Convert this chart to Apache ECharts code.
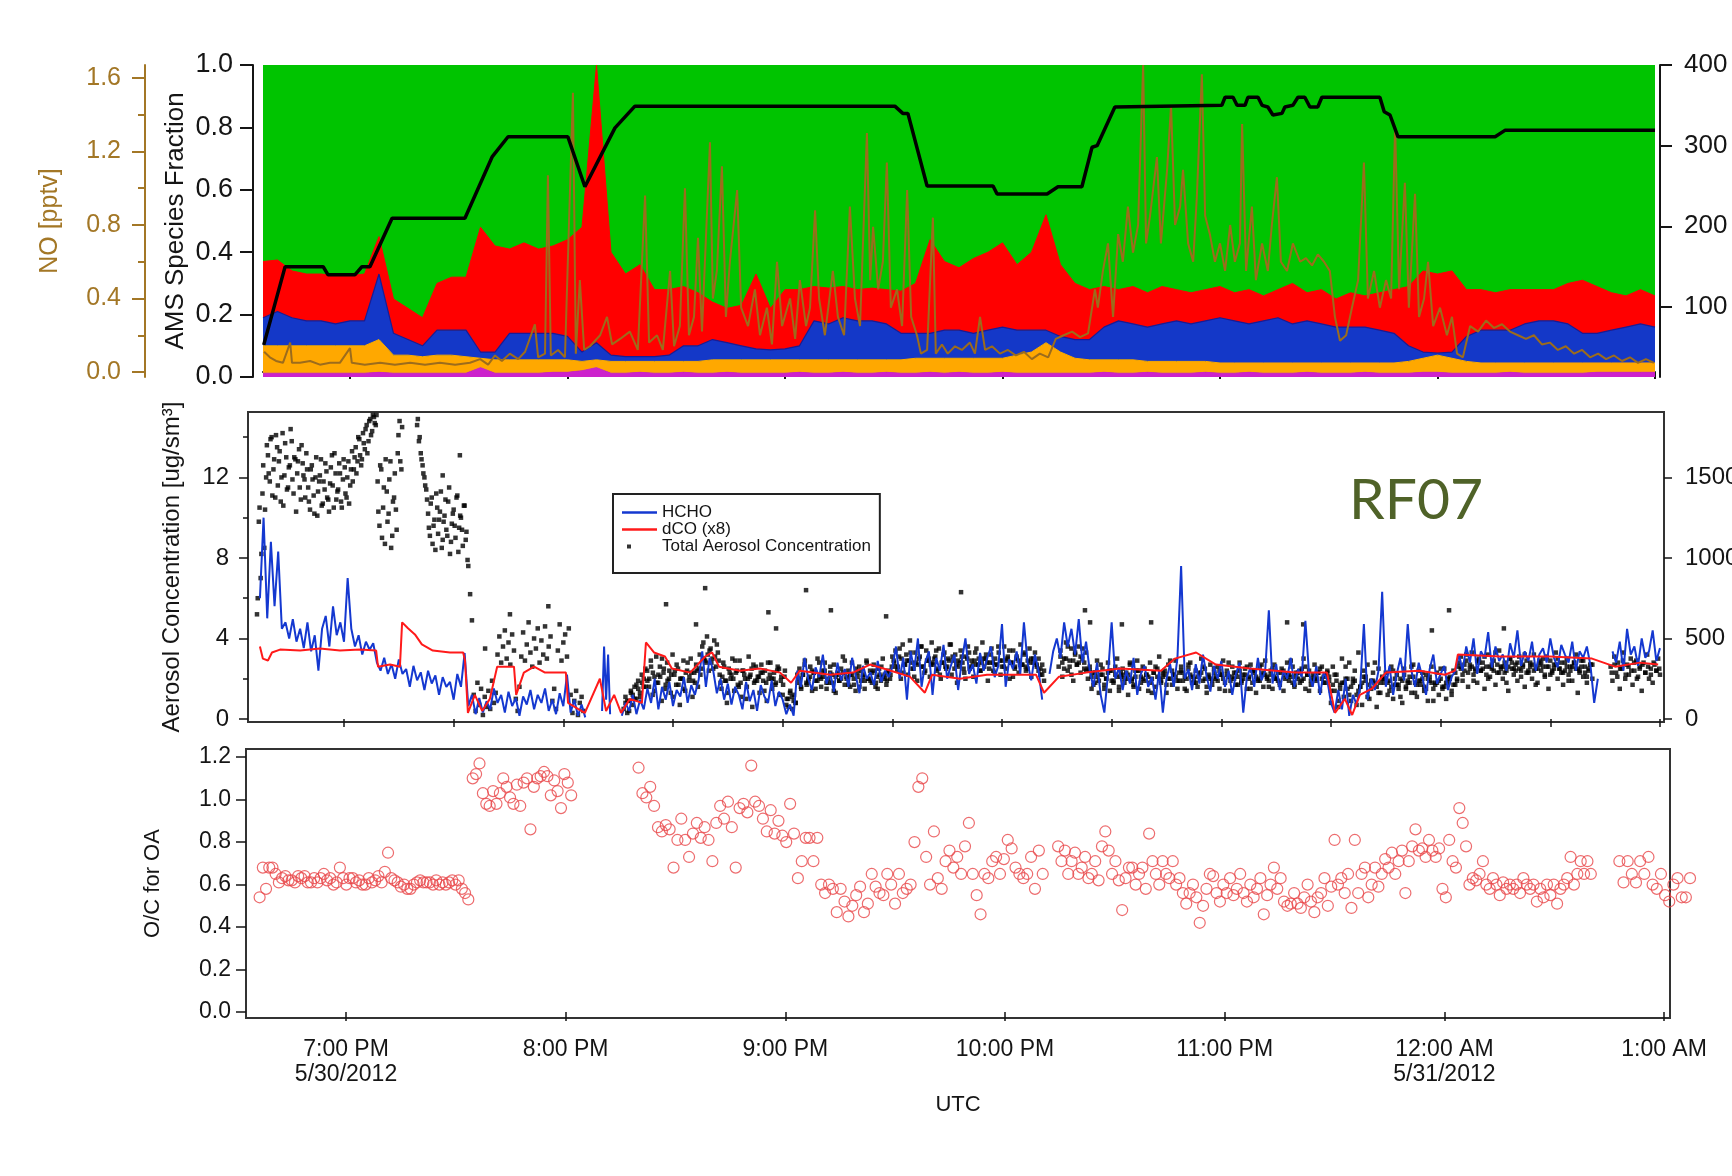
<!DOCTYPE html>
<html>
<head>
<meta charset="utf-8">
<title>RF07 AMS / aerosol / O:C</title>
<script src="https://cdn.jsdelivr.net/npm/echarts@6/dist/echarts.min.js"></script>
<style>
html, body { margin: 0; padding: 0; background: #fff; }
#chart { width: 1732px; height: 1176px; }
</style>
</head>
<body>
<div id="chart"></div>
<script>
// x values everywhere are minutes after 18:00 UTC, 5/30/2012
const hourTicks = [60, 120, 180, 240, 300, 360, 420]
const halfHourTicks = [60, 90, 120, 150, 180, 210, 240, 270, 300, 330, 360, 390, 420]
const hourLabels = ['7:00 PM\n5/30/2012', '8:00 PM', '9:00 PM', '10:00 PM', '11:00 PM', '12:00 AM\n5/31/2012', '1:00 AM']

// ---- top panel: AMS species fractions, one sample every 4 min from 18:36
const amsStart = 36
const amsStep = 4
const magFrac = [.012, .012, .012, .012, .012, .012, .012, .012, .015, .012,
  .012, .012, .012, .012, .012, .03, .012, .012, .012, .012,
  .015, .015, .02, .03, .012, .012, .015, .012, .012, .015,
  .012, .012, .015, .012, .012, .012, .012, .015, .012, .012,
  .015, .012, .012, .015, .012, .012, .015, .012, .015, .012,
  .012, .015, .012, .012, .012, .012, .012, .012, .015, .012,
  .012, .015, .012, .012, .012, .015, .012, .012, .015, .012,
  .012, .012, .015, .012, .012, .012, .015, .012, .012, .012,
  .015, .015, .012, .012, .012, .012, .015, .012, .012, .012,
  .012, .012, .015, .015, .015, .015, .015]
const orgFrac = [.088, .088, .088, .088, .088, .088, .088, .088, .105, .058,
  .058, .053, .058, .058, .053, .03, .043, .043, .043, .043,
  .04, .04, .03, .025, .038, .038, .035, .038, .038, .035,
  .038, .043, .04, .043, .043, .043, .043, .04, .043, .043,
  .04, .043, .043, .04, .043, .048, .045, .048, .045, .048,
  .048, .045, .058, .068, .098, .068, .048, .043, .04, .043,
  .043, .035, .038, .038, .038, .035, .033, .033, .03, .033,
  .033, .033, .03, .033, .033, .033, .03, .033, .033, .038,
  .045, .055, .048, .038, .033, .033, .03, .033, .033, .033,
  .033, .033, .03, .03, .03, .03, .03]
const bluFrac = [.09, .11, .09, .08, .08, .07, .08, .08, .21, .07,
  .05, .035, .08, .08, .085, .02, .025, .085, .085, .085,
  .085, .075, .03, .055, .02, .015, .015, .015, .02, .05,
  .05, .065, .055, .045, .035, .032, .035, .045, .125, .115,
  .135, .125, .125, .115, .085, .08, .08, .09, .09, .08,
  .09, .10, .08, .07, .04, .05, .06, .065, .105, .125,
  .115, .11, .12, .13, .12, .13, .145, .135, .125, .135,
  .145, .125, .135, .125, .115, .115, .115, .105, .095, .05,
  .02, .007, .02, .08, .105, .105, .105, .125, .135, .135,
  .125, .095, .095, .105, .115, .125, .115]
const redFrac = [.18, .165, .15, .15, .15, .155, .145, .15, .12, .11,
  .10, .09, .15, .17, .17, .40, .34, .27, .29, .27,
  .28, .31, .40, .89, .33, .265, .295, .215, .21, .19,
  .17, .12, .11, .13, .24, .133, .19, .18, .11, .115,
  .10, .10, .105, .11, .135, .16, .30, .22, .20, .24,
  .25, .27, .21, .25, .37, .23, .18, .16, .13, .10,
  .12, .11, .12, .10, .10, .10, .10, .09, .11, .08,
  .09, .13, .09, .11, .09, .11, .10, .12, .14, .19,
  .26, .253, .26, .15, .13, .12, .13, .11, .10, .10,
  .13, .17, .15, .12, .10, .11, .10]

// black trace on the right-hand top axis, [minute, value]
const blackLine = [[36.2, 53], [42.1, 150], [52.6, 150], [53.9, 140], [61.4, 140], [63.3, 150], [65.5, 150],
  [71.6, 210], [91.7, 210], [99.2, 286], [103.6, 311], [120.1, 311], [124.8, 249], [133.1, 322],
  [138.6, 349], [210.3, 349], [212.5, 340], [213.9, 340], [219.2, 250], [237.4, 250], [238.5, 240],
  [252.3, 240], [255.3, 249], [261.9, 249], [264.7, 298], [266.1, 300], [271.0, 348], [300.5, 350],
  [301.4, 360], [303.6, 360], [304.7, 350], [306.9, 350], [307.7, 360], [310.5, 360], [311.6, 350],
  [313.2, 348], [314.6, 338], [317.1, 340], [317.9, 348], [320.1, 350], [321.5, 360], [323.4, 360],
  [324.8, 348], [327.0, 348], [328.1, 360], [344.1, 360], [345.3, 342], [346.9, 338], [349.1, 311],
  [375.9, 311], [378.6, 319], [420, 319]]

// NO [pptv], [minute, value]
const noData = [[36.3, .11], [37.9, .08], [39.6, .06], [41.5, .05], [43.5, .16], [44.0, .05], [46.2, .05],
  [49.0, .06], [51.7, .04], [54.5, .05], [57.2, .05], [60.0, .13], [60.5, .05], [64.1, .04], [68.3, .05],
  [72.4, .04], [76.6, .05], [80.7, .04], [84.8, .05], [89.0, .04], [93.1, .05], [95.9, .07], [98.1, .04],
  [100.0, .09], [101.9, .06], [104.1, .10], [106.4, .07], [108.3, .11], [111.0, .26], [111.9, .08],
  [113.8, .10], [114.6, 1.07], [115.4, .09], [117.4, .12], [119.3, .08], [121.5, 1.52], [122.3, .10],
  [123.4, .50], [124.6, .12], [126.2, .14], [129.0, .20], [130.9, .30], [132.3, .15], [134.5, .18],
  [137.2, .22], [139.4, .12], [141.4, .96], [142.5, .16], [144.7, .20], [146.3, .12], [148.3, .55],
  [149.4, .14], [151.0, .25], [152.4, 1.0], [153.5, .20], [154.9, .30], [156.0, .73], [157.1, .22],
  [159.3, 1.25], [160.1, .40], [161.2, .55], [162.6, 1.12], [163.7, .30], [164.8, .60], [166.8, .99],
  [167.9, .35], [169.8, .25], [171.7, .45], [173.1, .20], [175.0, .35], [176.4, .15], [177.8, .60],
  [179.2, .25], [181.4, .40], [182.8, .18], [184.1, .50], [185.8, .25], [186.9, .35], [188.3, .88],
  [189.4, .40], [191.0, .20], [193.2, .55], [194.6, .30], [196.3, .20], [197.9, .90], [199.3, .40],
  [200.7, .25], [202.6, 1.30], [203.5, .50], [204.3, .79], [205.7, .45], [207.0, .60], [208.1, 1.14],
  [209.2, .35], [210.9, .45], [212.3, .25], [213.7, .99], [214.8, .30], [216.4, .20], [217.5, .10],
  [219.2, .12], [220.8, .84], [221.6, .10], [223.3, .15], [224.9, .10], [226.9, .14], [228.8, .12],
  [231.0, .16], [232.4, .10], [233.8, .30], [235.2, .12], [237.1, .14], [239.3, .10], [241.5, .12],
  [243.7, .09], [245.9, .11], [248.1, .07], [250.3, .10], [252.6, .08], [254.7, .18], [256.9, .20],
  [259.2, .22], [261.4, .19], [263.6, .21], [265.5, .45], [266.3, .35], [267.7, .55], [269.1, .70],
  [270.5, .30], [271.9, .75], [273.2, .60], [274.6, .90], [276.0, .65], [277.4, .80], [278.8, 1.67],
  [279.6, .70], [280.7, .85], [282.6, 1.17], [283.7, .70], [285.4, 1.10], [286.5, 1.45], [287.6, .80],
  [289.0, .90], [289.8, 1.10], [291.2, .70], [292.6, .60], [293.6, .95], [295.0, 1.62], [295.9, .85],
  [297.2, .75], [298.6, .60], [300.0, .70], [301.4, .55], [302.8, .80], [304.1, .60], [305.5, .70],
  [306.1, 1.35], [307.2, .55], [308.8, .90], [309.9, .50], [311.6, .70], [313.2, .55], [314.3, .80],
  [315.7, 1.06], [316.8, .60], [318.5, .55], [320.1, .70], [322.1, .60], [323.7, .62], [325.4, .58],
  [327.0, .64], [328.7, .60], [330.3, .55], [331.7, .30], [333.1, .17], [334.8, .20], [336.4, .35],
  [338.1, .50], [339.7, 1.14], [340.8, .40], [342.5, .55], [344.1, .35], [345.8, .50], [347.2, .40],
  [348.3, 1.34], [349.4, .45], [351.0, 1.03], [352.1, .35], [353.8, .97], [354.9, .30], [356.3, .40],
  [357.4, .60], [358.8, .25], [360.7, .35], [362.6, .20], [364.0, .30], [365.4, .10], [367.0, .08],
  [369.0, .25], [371.2, .22], [373.4, .28], [375.6, .24], [377.8, .26], [380.0, .22], [382.2, .20],
  [384.4, .18], [386.6, .20], [388.8, .15], [391.0, .16], [393.2, .12], [395.4, .14], [397.7, .10],
  [399.9, .12], [402.1, .08], [404.3, .10], [406.5, .07], [408.7, .09], [410.9, .06], [413.1, .08],
  [415.3, .05], [417.5, .07], [419.7, .05]]

// ---- middle panel
// HCHO [pptv]: segments [first minute, last minute, values]
const hchoSegs = [
  [37, 126, [750, 1250, 625, 1100, 700, 1040, 560, 600, 500, 620, 480, 560, 440, 600, 420, 520, 300, 560, 640, 450,
    700, 520, 600, 480, 875, 560, 450, 520, 400, 480, 430, 470, 350, 300, 380, 280, 340, 250, 370, 280,
    310, 200, 330, 240, 290, 180, 300, 220, 270, 150, 260, 200, 230, 120, 280, 200, 410, 80, 150, 30,
    130, 40, 110, 60, 190, 100, 150, 40, 170, 80, 130, 20, 140, 90, 180, 60, 150, 100, 190, 50,
    120, 30, 160, 80, 275, 40, 120, 20, 90, 10]],
  [130.6, 132.8, [50, 450, 120, 400, 30]],
  [136, 251, [20, 100, 50, 150, 30, 120, 60,
    190, 100, 250, 60, 200, 120, 230, 80, 180, 140, 260, 100, 210, 150, 240,
    420, 200, 380, 300, 160, 250,
    120, 220, 90, 200, 150, 60, 230, 110, 180, 50, 210, 140, 100, 240, 80, 170, 120,
    30, 90, 20,
    300, 200, 380, 250, 180, 320, 260, 400, 220, 290, 170, 350, 240, 310, 200, 380, 270, 160, 330, 250, 290, 210, 360, 230, 300, 260, 320,
    450, 250, 380, 120, 420, 300, 500, 200, 350, 420, 150, 380, 300, 460, 250, 330, 400, 180, 360, 500, 280,
    340, 220, 410, 300, 380, 450, 260, 330, 590, 200, 370, 310, 420, 280, 600, 350, 240, 400, 300, 120]],
  [253, 403, [280, 420, 500, 380, 600, 450, 560, 400, 620, 350, 480,
    300, 200, 350, 150, 40, 280, 600, 250, 320, 180, 300, 220, 380, 150, 280, 330, 200, 260, 120, 300,
    40, 250, 340, 200, 380, 950, 250, 310, 180, 340, 220, 400, 260, 170, 330, 250, 360, 200, 300, 150,
    280, 350, 40, 260, 320, 200, 380, 240, 300, 675, 220, 340, 180, 300, 250, 380, 200, 310, 260, 610,
    280, 200, 330, 150, 290, 240,
    100, 40, 180, 60, 250, 20, 150, 90, 200, 590, 120, 250, 180, 300, 790,
    200, 330, 150, 280, 380, 240, 590, 300, 200, 350, 260, 150, 310, 400, 220, 280, 330, 180, 260, 300,
    400, 300, 450, 350, 500, 280, 420, 380, 540, 320, 450, 360, 400, 300, 470, 380, 550, 330, 420, 360,
    480, 300, 400, 440, 350, 500, 380, 320, 460, 400, 350, 480, 300, 420, 380, 450, 330,
    100, 250]],
  [407, 420, [420, 350, 480, 300, 560, 400, 450, 330, 500, 380, 420, 550, 360, 440]]
]

// dCO (x8) [pptv], [minute, value]
const dcoData = [[37.0, 450], [37.8, 375], [39.2, 363], [40.3, 413], [42.5, 431], [48.0, 425], [53.4, 438],
  [58.9, 425], [64.4, 431], [68.8, 425], [69.3, 325], [72.6, 338], [75.3, 325], [75.9, 600], [77.5, 563],
  [79.4, 525], [81.3, 463], [84.3, 425], [89.0, 413], [92.6, 413], [93.1, 363], [93.9, 38], [95.8, 150],
  [97.8, 50], [99.9, 125], [101.9, 325], [106.5, 325], [107.1, 150], [109.2, 288], [112.0, 325],
  [115.0, 288], [120.7, 288], [121.3, 100], [124.0, 63], [125.9, 38], [130.0, 250], [131.7, 50],
  [133.9, 150], [135.8, 38], [138.2, 125], [141.5, 100], [142.6, 475], [144.8, 413], [147.8, 388],
  [149.7, 313], [154.7, 288], [158.8, 388], [160.7, 413], [162.6, 325], [168.3, 300], [173.8, 313],
  [179.3, 288], [182.3, 225], [184.7, 300], [193.0, 275], [199.2, 288], [203.9, 338], [209.6, 300],
  [214.8, 263], [218.9, 163], [220.9, 275], [228.5, 250], [235.9, 275], [249.3, 275], [251.5, 163],
  [255.6, 263], [263.0, 288], [272.3, 313], [283.5, 300], [287.3, 375], [293.1, 413], [298.5, 338],
  [307.8, 313], [320.2, 288], [328.9, 288], [331.1, 38], [333.8, 125], [335.8, 25], [337.9, 150],
  [341.2, 188], [345.0, 288], [354.3, 300], [361.2, 275], [363.9, 300], [364.7, 400], [376.2, 388],
  [389.9, 388], [401.4, 375], [407.7, 325], [414.5, 350], [419.5, 338]]

// Total aerosol [ug/sm3]: segments [first minute, last minute, values]; overlapping windows are separate passes
const aerosolSegs = [
  [36.2, 75.7, [5.2, 9.8, 7.0, 11.2, 8.5, 12.0,
    13.1, 11.8, 14.0, 12.4, 11.0, 13.5, 12.8, 10.8, 14.2, 12.1, 13.0, 11.5, 12.6, 13.8, 11.2, 12.9, 12.2, 13.4, 10.9, 12.7, 11.9, 13.2,
    11.5, 10.4, 12.6, 11.1, 12.0, 10.1, 11.8, 12.9, 10.7, 11.4, 12.3, 10.9, 11.7, 13.1, 10.5, 12.2, 11.3, 12.7, 10.8, 11.9, 12.5, 11.0, 12.8, 11.6, 13.3,
    12.4, 13.5, 12.8, 13.9, 12.6, 14.2, 13.4, 14.6, 13.8, 14.9, 14.3,
    15.0, 14.6,
    11.8, 9.6, 12.4, 10.5, 8.7, 11.3, 10.2, 12.8, 9.1, 11.0, 10.4,
    13.2, 14.8, 12.4]],
  [36.4, 75.9, [6.0, 10.5, 8.2, 12.6, 10.4, 13.6,
    12.2, 13.9, 11.1, 12.9, 14.1, 11.6, 13.3, 12.0, 10.6, 13.7, 11.4, 12.5, 14.4, 11.9, 13.0, 10.3, 12.8, 11.5, 13.6, 12.1, 11.0, 12.4,
    10.8, 12.4, 11.9, 10.2, 13.0, 11.3, 12.1, 10.6, 11.8, 12.7, 11.0, 10.3, 12.5, 11.6, 13.2, 10.9, 11.4, 12.2, 10.5, 12.9, 11.2, 12.0, 10.7, 12.4, 11.8,
    13.0, 12.2, 14.0, 13.1, 12.9, 13.7, 14.4, 13.2, 14.8, 14.1, 15.1,
    14.7, 15.1,
    10.3, 12.6, 9.0, 11.5, 12.9, 9.8, 11.9, 8.5, 10.8, 12.2, 9.4,
    14.1, 12.8, 14.5]],
  [80, 99, [14.6, 13.8, 13.2, 12.6, 12.0, 11.4,
    10.2, 9.1, 11.0, 9.6, 8.4, 10.5, 9.9, 11.3, 8.9, 10.1, 9.4, 10.8, 8.2, 9.7, 10.4, 9.0, 11.1, 9.5, 10.0, 8.6, 10.6, 9.3,
    7.6, 6.2, 4.9,
    1.2, 0.4, 1.8, 0.7, 1.5, 0.2, 1.1, 0.6]],
  [80.2, 93.8, [14.9, 14.0, 12.9, 12.2, 11.6, 10.9, 9.5, 10.7, 8.7, 9.9, 11.2, 9.2, 10.3, 8.5, 9.8, 10.9, 9.1, 11.5,
    8.8, 10.2, 9.6, 11.0, 8.3, 10.1, 9.4, 10.6, 8.9, 7.9]],
  [99.5, 125.5, [1.4, 0.5, 1.9, 0.8, 1.3,
    3.2, 4.1, 2.8, 3.6, 4.4, 3.0, 3.8, 2.7, 4.2, 3.4,
    1.0, 0.4, 1.6,
    3.1, 4.3, 2.9, 3.7, 4.8, 3.3, 2.6, 4.0, 3.5, 4.5, 2.8, 3.9, 3.2, 4.6, 3.0, 3.6, 4.1,
    0.9, 1.5, 0.5,
    3.4, 4.7, 2.9, 3.8, 4.2, 3.1, 4.5,
    1.2, 0.3, 0.9, 1.4, 0.2, 0.8, 1.1, 0.4]],
  [136.5, 251.5, [0.5, 1.1, 0.3, 0.9, 1.4, 0.7, 1.6, 1.0, 1.9, 1.3, 2.2, 1.6, 2.5,
    2.4, 1.6, 2.9, 1.2, 2.1, 3.1, 1.8, 2.6, 0.9, 2.3, 1.5, 2.8, 2.0, 1.3, 3.2, 2.2, 1.7, 2.5, 0.7, 2.0, 2.9, 1.4, 2.4, 1.9, 3.0, 1.1, 2.3, 2.7, 1.6,
    3.2, 2.5, 3.8, 2.9, 4.1, 2.4, 3.5, 3.0, 3.9, 2.6, 3.3,
    2.2, 1.5, 2.8, 1.9, 0.8, 2.5, 2.0, 3.0, 1.4, 2.3, 1.7, 2.9, 1.1, 2.4, 2.0, 1.6, 3.1, 2.2, 0.6, 1.8, 2.6, 2.1, 1.3, 2.7, 1.9, 2.4, 0.9, 2.0, 2.8, 1.5, 2.3, 1.8, 2.6, 1.2, 2.1, 1.7, 2.4,
    1.0, 0.6, 1.4, 0.5, 1.2, 0.8,
    1.8, 2.5, 1.5, 2.2, 2.9, 1.7, 2.0, 2.6, 1.4, 2.3, 1.9, 3.0, 2.1, 1.6, 2.4, 2.8, 1.5, 2.0, 2.3, 1.8, 2.7, 1.3, 2.2, 1.9, 2.5, 3.1,
    1.7, 2.1, 2.4, 1.6, 2.8, 2.0, 1.4, 2.3, 2.6, 1.9, 2.2, 1.5, 2.9, 2.0, 2.4, 1.8, 2.7, 1.6, 2.1, 2.5, 1.9, 3.0, 2.2, 1.7, 2.4, 2.0, 2.6,
    2.9, 3.4, 2.4, 3.1, 2.0, 3.7, 2.7, 3.2, 2.2, 3.9, 2.8, 2.5, 3.3, 1.9, 3.0, 3.6, 2.6, 2.3, 3.4, 2.9, 2.1, 3.8, 2.7, 3.1, 2.4, 3.5, 2.0, 2.8,
    3.3, 2.5, 3.0, 3.7, 2.2, 2.9, 3.2, 1.8, 2.6, 3.4, 2.8, 2.3, 3.1, 3.6, 2.5, 2.9, 2.1, 3.3, 2.7, 3.0, 2.4, 3.8, 2.6, 3.2, 1.9, 2.8, 3.5, 2.4,
    3.0, 2.7, 3.3, 2.2, 2.9, 3.6, 2.5, 3.1, 2.0, 2.8, 3.4, 2.6, 3.0, 2.3, 3.7, 2.7, 3.2, 2.4, 2.9, 3.5, 2.1, 2.8, 3.3, 2.6, 3.0, 2.2, 2.7, 1.9]],
  [137, 251, [0.8, 0.4, 1.2, 1.7, 1.1, 2.0,
    1.9, 2.6, 1.4, 2.2, 3.0, 1.7, 2.4, 1.1, 2.7, 2.0, 1.5, 2.8, 2.3, 1.8, 2.5,
    3.6, 2.8, 3.4, 2.5, 3.7,
    1.8, 2.6, 1.3, 2.2, 2.9, 1.6, 2.4, 1.0, 2.1, 2.7, 1.9, 2.3, 1.4, 2.8, 2.0, 1.7, 2.5, 1.2,
    0.7, 1.3, 0.9,
    2.2, 1.6, 2.7, 1.9, 2.4, 1.5, 2.8, 2.1, 1.8, 2.6, 1.4, 2.3, 2.0, 2.9, 1.7, 2.2, 2.5, 1.6, 2.1, 2.8, 1.9, 2.4, 1.5, 2.6, 2.0, 2.3,
    3.1, 2.6, 3.5, 2.3, 2.9, 3.3, 2.1, 2.7, 3.6, 2.4, 3.0, 2.8, 3.4, 2.2, 3.2, 2.6, 3.7, 2.5, 2.9, 3.1, 2.0,
    3.3, 2.7, 3.5, 2.4, 3.0, 2.8, 3.2, 2.3, 3.6, 2.6, 2.9, 3.4, 2.1, 3.1, 2.7, 3.3, 2.5, 3.0, 2.8, 2.4, 2.2]],
  [137.5, 251.5, [0.9, 1.3, 1.0, 1.5, 1.8, 1.6,
    2.0, 2.3, 1.8, 2.1, 2.5, 1.9, 2.2, 2.4, 1.7, 2.0, 2.3, 2.1, 1.9, 2.4, 2.2,
    3.0, 3.2, 2.8, 3.1, 2.9,
    2.1, 1.9, 2.3, 2.0, 2.4, 1.8, 2.2, 2.0, 2.5, 1.9, 2.1, 2.3, 1.8, 2.2, 2.0, 2.4, 1.9, 2.1,
    1.0, 1.1, 0.8,
    2.0, 2.2, 1.8, 2.1, 2.3, 1.9, 2.0, 2.4, 1.8, 2.2, 2.1, 1.9, 2.3, 2.0, 2.2, 1.7, 2.1, 2.4, 1.9, 2.0, 2.3, 1.8, 2.2, 2.1, 1.9, 2.2,
    2.8, 2.6, 3.0, 2.7, 2.9, 2.5, 2.8, 3.1, 2.6, 2.9, 2.7, 3.0, 2.5, 2.8, 2.6, 2.9, 3.1, 2.7, 2.8, 2.5, 3.0,
    2.6, 2.9, 2.7, 2.8, 3.0, 2.5, 2.8, 2.7, 2.9, 2.6, 3.0, 2.8, 2.5, 2.9, 2.7, 2.6, 2.8, 3.0, 2.7, 2.5, 2.4]],
  [255.5, 401.5, [2.6, 3.4, 2.1, 3.0, 3.8, 2.4, 2.9, 3.5, 1.9, 3.2, 2.7, 3.6, 2.3, 3.0, 2.5, 3.3,
    2.0, 2.6, 1.5, 2.3, 1.8, 2.9, 1.3, 2.2, 2.5, 1.7, 2.0, 2.8, 1.4, 2.4, 1.9, 2.2, 3.0, 1.6, 2.1, 2.5, 1.8, 2.3, 1.2, 2.7, 2.0, 1.7, 2.4, 2.9, 1.5, 2.1,
    2.6, 1.9, 2.2, 1.4, 2.8, 2.0, 2.3, 1.6, 2.5, 3.1, 1.8, 2.1, 2.4, 1.3, 2.7, 2.0, 1.7, 2.2, 2.9, 1.5, 2.3, 2.6, 1.9, 2.1, 1.4, 2.5, 2.8, 1.8, 2.0, 2.4,
    1.6, 2.2, 3.0, 1.9, 2.5, 1.3, 2.1, 2.7, 1.7, 2.3, 2.0, 2.6, 1.5, 2.2, 2.9, 1.8, 2.4, 2.1, 1.4, 2.6, 2.0, 2.3, 1.7, 2.8, 1.9, 2.2, 2.5, 1.5, 2.1, 2.7,
    1.8, 2.4, 1.3, 2.0, 2.6, 2.2, 1.6, 2.9, 2.1, 1.9, 2.4, 1.5, 2.7, 2.0, 2.3, 1.7, 2.5, 1.4, 2.2, 2.8, 1.9, 2.1, 2.6, 1.6, 2.3, 2.0, 1.8, 2.5, 3.0, 1.5,
    2.2, 2.4, 1.7, 2.0, 2.7, 1.9, 2.3, 1.4, 2.6, 2.1, 1.8, 2.4,
    1.9, 0.8, 2.6, 1.4, 2.2, 0.6, 1.7, 3.0, 1.1, 2.0, 1.5, 2.8, 0.9, 1.8, 2.4, 1.2, 3.3, 1.6, 0.7, 2.1, 1.9, 2.7, 1.0, 1.5, 2.3, 1.8, 0.6, 2.5, 1.3, 2.0,
    1.8, 2.3, 1.2, 1.9, 2.6, 1.0, 1.7, 2.2, 1.5, 2.0, 0.8, 2.5, 1.6, 1.9, 2.1, 1.3, 2.7, 1.8, 1.1, 2.4, 1.7, 2.0, 1.4, 2.2, 0.9, 1.9, 2.6, 1.5, 1.8, 2.3,
    1.2, 2.0, 1.6, 2.5, 1.0, 1.8, 2.1, 1.4, 2.4, 1.7, 2.0,
    2.6, 3.1, 1.9, 2.4, 2.9, 1.6, 2.7, 3.3, 2.2, 2.5, 1.8, 3.0, 2.4, 2.8, 1.5, 2.6, 3.2, 2.1, 2.5, 2.9, 1.7, 2.3, 3.4, 2.6, 2.0, 2.8, 2.4, 1.4, 3.0, 2.5,
    2.2, 2.7, 1.9, 3.1, 2.4, 2.6, 1.6, 2.9, 2.3, 2.8, 2.0, 3.2, 2.5, 1.8, 2.7, 2.4, 3.0, 2.1, 2.6, 1.5, 2.9, 2.3, 2.7, 3.3, 2.0, 2.5, 2.8, 1.7, 2.4, 3.0,
    2.2, 2.6, 1.9, 2.8, 2.5, 1.3, 2.3, 2.9, 2.1, 2.6, 1.8, 2.4, 2.7, 2.0]],
  [256, 401, [3.1, 2.5, 3.6, 2.2, 3.3, 2.8, 3.5, 2.4,
    2.4, 1.7, 2.1, 2.7, 1.5, 2.3, 1.9, 2.6, 1.4, 2.2, 2.0, 2.8, 1.6, 2.4, 1.8, 2.5, 2.1, 1.3, 2.6, 2.0, 2.3, 1.7,
    2.9, 2.2, 1.9, 2.4, 1.5, 2.7, 2.1, 1.8, 2.3, 2.6, 1.6, 2.0, 2.5, 1.9, 2.2, 1.4, 2.8, 2.1, 1.7, 2.4, 2.0, 2.6,
    1.5, 2.3, 1.9, 2.7, 2.2, 1.6, 2.5, 2.0, 1.8, 2.4, 2.1, 2.9, 1.7, 2.3, 1.9, 2.6, 1.4, 2.2, 2.0, 2.5, 1.8, 2.3,
    1.4, 2.2, 0.9, 1.8, 2.6, 1.2, 2.0, 0.7, 1.6, 2.4, 1.1, 1.9, 2.8, 1.3, 2.1,
    2.0, 1.4, 2.4, 1.7, 1.1, 2.2, 1.8, 2.6, 1.3, 1.9, 2.3, 1.5, 2.1, 0.9, 1.8, 2.5, 1.6, 2.0, 1.2, 2.3,
    2.8, 2.2, 3.2, 2.5, 1.9, 2.9, 2.4, 3.1, 2.0, 2.7, 3.3, 2.3, 2.6, 1.8, 3.0, 2.5, 2.8, 2.1, 3.2, 2.4,
    2.7, 1.7, 2.9, 2.6, 3.1, 2.2, 2.5, 3.0, 2.3, 2.8, 1.9, 2.6, 3.2, 2.4, 2.9, 2.1, 2.7]],
  [256.5, 401.5, [2.8, 3.0, 2.6, 2.9, 2.7, 3.1, 2.8, 2.5,
    2.1, 2.3, 1.9, 2.2, 2.0, 2.4, 1.8, 2.1, 2.3, 2.0, 2.2, 1.9, 2.1, 2.4, 2.0, 2.2, 1.8, 2.3, 2.1, 1.9, 2.2, 2.0,
    2.4, 2.1, 1.9, 2.3, 2.0, 2.2, 1.8, 2.1, 2.3, 2.0, 2.2, 1.9, 2.1, 2.4, 2.0, 2.2, 1.9, 2.3, 2.1, 1.8, 2.2, 2.0,
    2.4, 2.1, 1.9, 2.3, 2.0, 2.2, 2.1, 1.9, 2.3, 2.0, 2.2, 1.8, 2.1, 2.4, 2.0, 2.2, 1.9, 2.1, 2.3, 2.0, 2.2, 2.1,
    1.7, 1.9, 1.5, 1.8, 2.0, 1.6, 1.9, 1.4, 1.8, 2.1, 1.7, 1.9, 1.6, 1.8, 2.0,
    1.8, 1.6, 2.0, 1.7, 1.9, 1.5, 1.8, 2.1, 1.7, 1.9, 1.6, 2.0, 1.8, 1.7, 1.9, 1.5, 1.8, 2.0, 1.7, 1.9,
    2.5, 2.7, 2.3, 2.6, 2.4, 2.8, 2.5, 2.2, 2.6, 2.4, 2.7, 2.5, 2.3, 2.6, 2.8, 2.4, 2.5, 2.7, 2.3,
    2.6, 2.4, 2.5, 2.8, 2.2, 2.6, 2.4, 2.7, 2.5, 2.3, 2.6, 2.4, 2.8, 2.5, 2.6, 2.3, 2.5, 2.7]],
  [406.5, 420, [2.6, 1.9, 3.1, 2.3, 2.8, 1.5, 2.5, 3.3, 2.0, 2.7, 2.2, 3.0, 1.7, 2.4, 2.9, 2.1, 2.6, 1.4, 2.8, 2.3, 3.2, 2.0, 2.5, 1.8, 2.7, 2.4, 3.0, 2.2]],
  [406.8, 419.8, [2.3, 2.7, 2.1, 2.5, 2.9, 2.2, 2.6, 2.4, 2.8, 2.0, 2.5, 2.7, 2.3, 2.6, 2.2, 2.8, 2.4, 2.5]]
]
const aerosolStray = [[87.0, 12.1], [91.7, 13.1], [98.6, 3.5], [105.4, 5.2], [115.9, 5.6], [148.1, 5.7], [156.3, 4.7],
  [158.8, 6.5], [176.1, 5.3], [178.2, 4.5], [186.4, 6.4], [193.2, 5.4], [208.3, 5.1], [228.8, 6.3],
  [262.7, 5.4], [264.1, 4.8], [272.8, 4.7], [280.8, 4.8], [318.0, 4.8], [322.4, 4.7], [357.6, 4.4],
  [362.3, 5.4], [377.3, 4.5]]

// ---- bottom panel: O/C for OA, segments [first minute, last minute, values]
const ocSegs = [
  [36.4, 93.4, [0.54, 0.68, 0.58, 0.68, 0.68, 0.65, 0.61, 0.63, 0.64, 0.62, 0.62, 0.61, 0.64, 0.63, 0.64, 0.61, 0.61,
    0.63, 0.61, 0.63, 0.65, 0.62, 0.63, 0.60, 0.61, 0.68, 0.63, 0.60, 0.63, 0.63, 0.61, 0.62, 0.60, 0.60,
    0.63, 0.61, 0.62, 0.64, 0.61, 0.66, 0.75, 0.63, 0.62, 0.61, 0.59, 0.60, 0.58, 0.58, 0.60, 0.61, 0.62,
    0.61, 0.61, 0.61, 0.60, 0.62, 0.60, 0.61, 0.60, 0.61, 0.62, 0.60, 0.62, 0.58, 0.56, 0.53]],
  [94.6, 121.5, [1.10, 1.12, 1.17, 1.03, 0.98, 0.97, 1.04, 0.98, 1.03, 1.10, 1.06, 1.01, 0.98, 1.07, 0.97,
    1.08, 1.10, 0.86, 1.06, 1.10, 1.11, 1.13, 1.11, 1.02, 1.09, 1.04, 0.96, 1.12, 1.08, 1.02]],
  [139.9, 250.3, [1.15, 1.03, 1.01, 1.06, 0.97, 0.87, 0.85, 0.88, 0.86, 0.68, 0.81, 0.91, 0.81, 0.73, 0.84, 0.89,
    0.82, 0.87, 0.81, 0.71, 0.89, 0.97, 0.91, 0.99, 0.87, 0.68, 0.96, 0.98, 0.94, 1.16, 0.99, 0.97, 0.91,
    0.85, 0.95, 0.84, 0.90, 0.83, 0.80, 0.98, 0.84,
    0.63, 0.71, 0.82, 0.82, 0.71, 0.82, 0.60, 0.56, 0.60, 0.58, 0.47, 0.58, 0.52, 0.45, 0.50, 0.55, 0.59,
    0.47, 0.51, 0.65, 0.59, 0.56, 0.55, 0.65, 0.60, 0.51, 0.65, 0.56, 0.58, 0.60, 0.80, 1.06, 1.10, 0.73,
    0.60, 0.85, 0.63, 0.58, 0.71, 0.76, 0.68, 0.73, 0.65, 0.78, 0.89, 0.65, 0.55, 0.46, 0.65, 0.63, 0.71,
    0.73, 0.65, 0.72, 0.81, 0.77, 0.68, 0.65, 0.63, 0.65, 0.73, 0.58, 0.76, 0.65]],
  [254.5, 400.0, [0.78, 0.71, 0.76, 0.65, 0.71, 0.75, 0.65, 0.68, 0.73, 0.63, 0.65, 0.71, 0.62, 0.78, 0.85, 0.76,
    0.65, 0.71, 0.62, 0.48, 0.63, 0.68, 0.68, 0.60, 0.65, 0.68, 0.58, 0.84, 0.71, 0.65, 0.60, 0.71, 0.65,
    0.63, 0.71, 0.60, 0.63, 0.56, 0.51, 0.56, 0.60, 0.54, 0.42, 0.50, 0.58, 0.65, 0.64, 0.56, 0.52, 0.60,
    0.56, 0.63, 0.55, 0.58, 0.65, 0.56, 0.52, 0.60, 0.54, 0.58, 0.63, 0.46, 0.55, 0.60, 0.68, 0.58, 0.63,
    0.52, 0.50, 0.51, 0.56, 0.51, 0.49, 0.54, 0.60, 0.52, 0.47, 0.54, 0.56, 0.63, 0.50, 0.59, 0.81, 0.60,
    0.63, 0.56, 0.65, 0.49, 0.81, 0.56, 0.65, 0.68, 0.54, 0.60, 0.68, 0.59, 0.65, 0.72, 0.68, 0.75, 0.65,
    0.71, 0.76, 0.56, 0.71, 0.78, 0.86, 0.76, 0.77, 0.73, 0.81, 0.76, 0.73, 0.77, 0.58, 0.54, 0.81, 0.71,
    0.68, 0.96, 0.89, 0.78, 0.60, 0.63, 0.62, 0.65, 0.71, 0.60, 0.58, 0.63, 0.60, 0.55, 0.61, 0.58, 0.60,
    0.58, 0.60, 0.56, 0.63, 0.60, 0.58, 0.60, 0.52, 0.58, 0.54, 0.60, 0.55, 0.60, 0.51, 0.58, 0.60, 0.63,
    0.73, 0.60, 0.65, 0.71, 0.65, 0.71, 0.65]],
  [407.8, 427.1, [0.71, 0.61, 0.71, 0.65, 0.61, 0.71, 0.65, 0.73, 0.60, 0.58, 0.65, 0.55, 0.52, 0.60, 0.63, 0.54, 0.54, 0.63]]
]

// sample times spread evenly over each segment's window
function spread (seg) {
  const t0 = seg[0]
  const t1 = seg[1]
  const vals = seg[2]
  const n = vals.length
  return vals.map((v, i) => [t0 + (t1 - t0) * i / Math.max(n - 1, 1), v])
}
function joinSegs (segs, breakGaps) {
  let out = []
  segs.forEach((s, k) => {
    if (k > 0 && breakGaps) out.push([s[0] - 0.3, '-'])
    out = out.concat(spread(s))
  })
  return out
}

const amsMinutes = magFrac.map((v, i) => String(amsStart + amsStep * i))
const hchoData = joinSegs(hchoSegs, true)
const aerosolData = joinSegs(aerosolSegs, false).concat(aerosolStray)
const ocData = joinSegs(ocSegs, false)

const FONT = "'Liberation Sans', Arial, Helvetica, sans-serif"
const INK = '#151515'
const BROWN = '#a37726'
const fracTicks = [0, 0.2, 0.4, 0.6, 0.8, 1.0]
const noTicks = [0, 0.4, 0.8, 1.2, 1.6]
const noMinor = [0.2, 0.6, 1.0, 1.4]
const ocTicks = [0, 0.2, 0.4, 0.6, 0.8, 1.0, 1.2]
const fix1 = v => Number(v).toFixed(1)
const plain = v => String(Math.round(v))

function tick (values, len, color, width) {
  return { show: true, customValues: values, length: len, lineStyle: { color: color || INK, width: width || 1.5 } }
}
function noLine () { return { show: false } }

const chart = echarts.init(document.getElementById('chart'))
chart.setOption({
  animation: false,
  backgroundColor: '#fff',
  textStyle: { fontFamily: FONT },
  grid: [
    { left: 263, top: 65, width: 1392, height: 312, show: true, backgroundColor: '#00c400', borderWidth: 0, outerBoundsMode: 'none' },
    { left: 248, top: 412, width: 1416, height: 310, show: true, borderColor: '#333', borderWidth: 2, outerBoundsMode: 'none' },
    { left: 246, top: 749, width: 1424, height: 269, show: true, borderColor: '#333', borderWidth: 2, outerBoundsMode: 'none' }
  ],
  legend: {
    orient: 'vertical',
    left: 613,
    top: 494,
    selectedMode: false,
    itemWidth: 35,
    itemHeight: 14,
    itemGap: 0,
    padding: [10, 9, 18, 9],
    borderColor: '#222',
    borderWidth: 2,
    textStyle: { fontSize: 17, lineHeight: 16, color: INK, fontFamily: FONT },
    data: [
      { name: 'HCHO', icon: 'path://M0,0L35,0L35,2.6L0,2.6Z' },
      { name: 'dCO (x8)', icon: 'path://M0,0L35,0L35,2.6L0,2.6Z' },
      { name: 'Total Aerosol Concentration', icon: 'path://M0,0M35,14M5,5L9,5L9,9L5,9Z' }
    ]
  },
  graphic: [{
    type: 'text',
    left: 1349,
    top: 472,
    style: { text: 'RF07', fontSize: 57, fontFamily: 'Lato, sans-serif', fill: '#4f6228' }
  }],
  xAxis: [
    { type: 'category', gridIndex: 0, data: amsMinutes, boundaryGap: false, show: false },
    {
      type: 'value', gridIndex: 0, min: 36, max: 420, position: 'bottom', offset: 4,
      axisLine: { show: true, lineStyle: { color: INK, width: 2 } },
      axisTick: tick(hourTicks, 7, INK, 2),
      axisLabel: { show: false },
      splitLine: noLine()
    },
    {
      type: 'value', gridIndex: 1, min: 33.74, max: 421.1,
      axisLine: noLine(),
      axisTick: tick(halfHourTicks, 8),
      axisLabel: { show: false },
      splitLine: noLine()
    },
    {
      type: 'value', gridIndex: 2, min: 32.68, max: 421.63,
      axisLine: noLine(),
      axisTick: tick(hourTicks, 9),
      axisLabel: {
        customValues: hourTicks,
        formatter: v => hourLabels[hourTicks.indexOf(Math.round(v))] || '',
        fontSize: 23, lineHeight: 25, margin: 19, color: INK
      },
      splitLine: noLine(),
      name: 'UTC', nameLocation: 'middle', nameGap: 76, nameMoveOverlap: false,
      nameTextStyle: { fontSize: 22, color: INK }
    }
  ],
  yAxis: [
    {
      type: 'value', gridIndex: 0, position: 'left', offset: 10, min: 0, max: 1,
      axisLine: { show: true, lineStyle: { color: INK, width: 2 } },
      axisTick: tick(fracTicks, 13, INK, 2),
      axisLabel: { customValues: fracTicks, formatter: fix1, fontSize: 27, margin: 20, color: INK },
      splitLine: noLine(),
      name: 'AMS Species Fraction', nameLocation: 'middle', nameGap: 64, nameMoveOverlap: false,
      nameTextStyle: { fontSize: 26, color: INK }
    },
    {
      type: 'value', gridIndex: 0, position: 'left', offset: 118, min: -0.0272, max: 1.6707,
      axisLine: { show: true, lineStyle: { color: BROWN, width: 2 } },
      axisTick: tick(noTicks, 13, BROWN, 2),
      axisLabel: { customValues: noTicks, formatter: fix1, fontSize: 25, margin: 24, color: BROWN },
      splitLine: noLine(),
      name: 'NO [pptv]', nameLocation: 'middle', nameGap: 82, nameMoveOverlap: false,
      nameTextStyle: { fontSize: 25, color: BROWN }
    },
    {
      type: 'value', gridIndex: 0, position: 'left', offset: 118, min: -0.0272, max: 1.6707,
      axisLine: noLine(), axisTick: tick(noMinor, 7, BROWN, 2), axisLabel: { show: false }, splitLine: noLine()
    },
    {
      type: 'value', gridIndex: 0, position: 'right', offset: 5, min: 13.2, max: 400,
      axisLine: { show: true, lineStyle: { color: INK, width: 2 } },
      axisTick: tick([100, 200, 300, 400], 12, INK, 2),
      axisLabel: { customValues: [100, 200, 300, 400], formatter: plain, fontSize: 26, margin: 24, color: INK },
      splitLine: noLine()
    },
    {
      type: 'value', gridIndex: 1, position: 'left', min: -0.149, max: 15.25,
      axisLine: noLine(),
      axisTick: tick([0, 4, 8, 12], 9),
      axisLabel: { customValues: [0, 4, 8, 12], formatter: plain, fontSize: 24, margin: 19, color: INK },
      splitLine: noLine(),
      name: 'Aerosol Concentration [ug/sm\u00b3]', nameLocation: 'middle', nameGap: 64, nameMoveOverlap: false,
      nameTextStyle: { fontSize: 24, color: INK }
    },
    {
      type: 'value', gridIndex: 1, position: 'left', min: -0.149, max: 15.25,
      axisLine: noLine(), axisTick: tick([2, 6, 10, 14], 5), axisLabel: { show: false }, splitLine: noLine()
    },
    {
      type: 'value', gridIndex: 1, position: 'right', min: -18.6, max: 1906,
      axisLine: noLine(),
      axisTick: tick([0, 500, 1000, 1500], 8),
      axisLabel: { customValues: [0, 500, 1000, 1500], formatter: plain, fontSize: 24, margin: 21, color: INK },
      splitLine: noLine()
    },
    {
      type: 'value', gridIndex: 2, position: 'left', min: -0.028, max: 1.238,
      axisLine: noLine(),
      axisTick: tick(ocTicks, 10),
      axisLabel: { customValues: ocTicks, formatter: fix1, fontSize: 23, margin: 15, color: INK },
      splitLine: noLine(),
      name: 'O/C for OA', nameLocation: 'middle', nameGap: 82, nameMoveOverlap: false,
      nameTextStyle: { fontSize: 22, color: INK }
    }
  ],
  series: [
    {
      name: 'Org minor', type: 'line', xAxisIndex: 0, yAxisIndex: 0, stack: 'ams', symbol: 'none',
      lineStyle: { width: 1, color: '#cc22cc' }, itemStyle: { color: '#cc22cc' },
      areaStyle: { color: '#cc22cc', opacity: 1 }, data: magFrac
    },
    {
      name: 'Species 2', type: 'line', xAxisIndex: 0, yAxisIndex: 0, stack: 'ams', symbol: 'none',
      lineStyle: { width: 1, color: '#ffa800' }, itemStyle: { color: '#ffa800' },
      areaStyle: { color: '#ffa800', opacity: 1 }, data: orgFrac
    },
    {
      name: 'Species 3', type: 'line', xAxisIndex: 0, yAxisIndex: 0, stack: 'ams', symbol: 'none',
      lineStyle: { width: 1.2, color: '#1a1a96' }, itemStyle: { color: '#1438c8' },
      areaStyle: { color: '#1438c8', opacity: 1 }, data: bluFrac
    },
    {
      name: 'Species 4', type: 'line', xAxisIndex: 0, yAxisIndex: 0, stack: 'ams', symbol: 'none',
      lineStyle: { width: 1, color: '#ff0000' }, itemStyle: { color: '#ff0000' },
      areaStyle: { color: '#ff0000', opacity: 1 }, data: redFrac
    },
    {
      name: 'NO', type: 'line', xAxisIndex: 1, yAxisIndex: 1, symbol: 'none',
      lineStyle: { width: 2, color: '#9c6c1c' }, itemStyle: { color: '#9c6c1c' }, data: noData
    },
    {
      name: 'Black trace', type: 'line', xAxisIndex: 1, yAxisIndex: 3, symbol: 'none',
      lineStyle: { width: 3.5, color: '#000' }, itemStyle: { color: '#000' }, data: blackLine
    },
    {
      name: 'HCHO', type: 'line', xAxisIndex: 2, yAxisIndex: 6, symbol: 'none', connectNulls: false,
      lineStyle: { width: 2, color: '#1438d0' }, itemStyle: { color: '#1438d0' }, data: hchoData
    },
    {
      name: 'Total Aerosol Concentration', type: 'scatter', xAxisIndex: 2, yAxisIndex: 4,
      symbol: 'rect', symbolSize: 4.5, large: false, progressive: 0, itemStyle: { color: '#000' }, data: aerosolData
    },
    {
      name: 'dCO (x8)', type: 'line', xAxisIndex: 2, yAxisIndex: 6, symbol: 'none',
      lineStyle: { width: 2, color: '#ff1a1a' }, itemStyle: { color: '#ff1a1a' }, data: dcoData
    },
    {
      name: 'O/C for OA', type: 'scatter', xAxisIndex: 3, yAxisIndex: 7, clip: false,
      symbol: 'circle', symbolSize: 11,
      itemStyle: { color: 'rgba(255,255,255,0)', borderColor: '#e8474a', borderWidth: 1.2 },
      data: ocData
    }
  ]
})
</script>
</body>
</html>
